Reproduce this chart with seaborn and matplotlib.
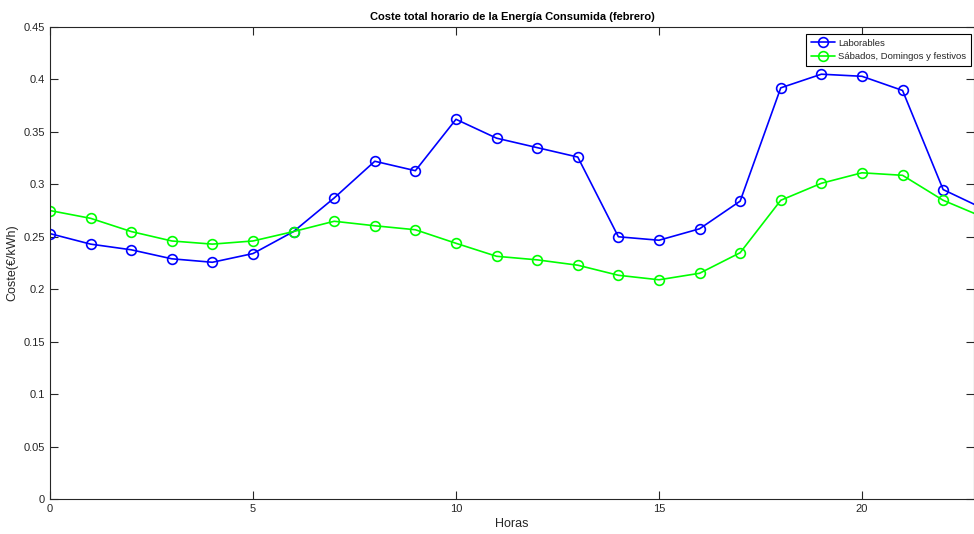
import numpy as np
import pandas as pd
import matplotlib
matplotlib.use("Agg")
import matplotlib.pyplot as plt
import seaborn as sns

# Data
horas = list(range(24))
laborables = [0.253, 0.243, 0.2376, 0.229, 0.2257, 0.234, 0.255, 0.287,
              0.322, 0.313, 0.362, 0.344, 0.335, 0.326, 0.250, 0.2467,
              0.2576, 0.284, 0.392, 0.405, 0.403, 0.3895, 0.295, 0.2766]
festivos = [0.275, 0.2676, 0.255, 0.246, 0.243, 0.246, 0.255, 0.2648,
            0.2605, 0.2567, 0.2438, 0.2314, 0.228, 0.2229, 0.2133, 0.209,
            0.2152, 0.2348, 0.2848, 0.301, 0.311, 0.3086, 0.2848, 0.2685]
series_names = ["Laborables", "Sábados, Domingos y festivos"]
series_colors = ["#0000ff", "#00ff00"]

sns.set_style("ticks")
plt.rcParams['font.family'] = ['Liberation Sans', 'DejaVu Sans']

df = pd.DataFrame({
    "Horas": horas * 2,
    "Coste": laborables + festivos,
    "Tipo": [series_names[0]] * len(horas) + [series_names[1]] * len(horas),
})

fig = plt.figure(figsize=(9.74, 5.34), dpi=100)
ax = fig.add_axes([50 / 974, 1 - 499 / 534, 1 - 50 / 974, (499 - 27) / 534])

sns.lineplot(data=df, x="Horas", y="Coste", hue="Tipo", hue_order=series_names,
             palette=series_colors, marker="o", markersize=7, linewidth=1.2,
             markerfacecolor="none", markeredgewidth=1.2, ax=ax)
for line, col in zip(ax.lines, series_colors):
    line.set_markeredgecolor(col)
    line.set_markerfacecolor("none")

ax.set_xlim(0, 22.76)
ax.set_ylim(0, 0.45)
ax.set_xticks([0, 5, 10, 15, 20])
ax.set_yticks(np.arange(0, 0.451, 0.05))
ax.set_yticklabels(["0", "0.05", "0.1", "0.15", "0.2", "0.25", "0.3", "0.35", "0.4", "0.45"])

gray = "#262626"
ax.tick_params(direction="in", length=6, width=0.8, colors=gray, labelsize=8,
               top=True, right=True, labelcolor=gray)
for s in ax.spines.values():
    s.set_visible(True)
    s.set_linewidth(0.8)
    s.set_color(gray)

ax.set_xlabel("Horas", fontsize=9, color=gray, labelpad=3)
ax.set_ylabel("Coste(€/kWh)", fontsize=9, color=gray, labelpad=4)
ax.set_title("Coste total horario de la Energía Consumida (febrero)",
             fontsize=8, fontweight="bold", color="black", pad=5)

handles, labels = ax.get_legend_handles_labels()
for h, col in zip(handles, series_colors):
    h.set_markeredgecolor(col)
    h.set_markerfacecolor("none")
leg = ax.legend(handles, labels, loc="upper left",
                bbox_to_anchor=((806 - 50) / 924, (499 - 34) / 472),
                fontsize=6.8, frameon=True, fancybox=False, framealpha=1,
                edgecolor="black", borderpad=0.5, labelspacing=0.45,
                handlelength=2.6, handletextpad=0.3, borderaxespad=0.0)
leg.get_frame().set_linewidth(0.8)

fig.savefig("out.png", dpi=100)
